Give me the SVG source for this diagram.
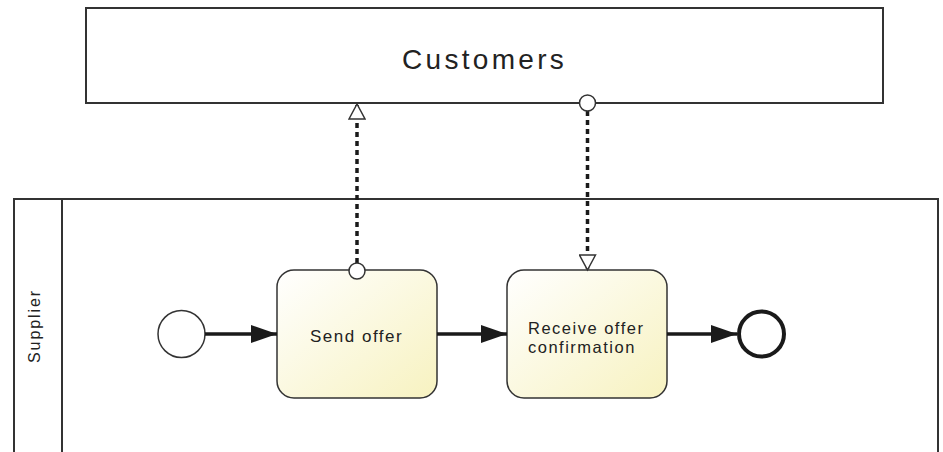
<svg xmlns="http://www.w3.org/2000/svg" width="943" height="452" viewBox="0 0 943 452">
<defs>
<linearGradient id="taskFill" x1="0" y1="0" x2="1" y2="1">
<stop offset="0" stop-color="#ffffff"/>
<stop offset="1" stop-color="#f7f2c0"/>
</linearGradient>
<marker id="seqArrow" markerWidth="26" markerHeight="20" refX="26" refY="10" orient="auto" markerUnits="userSpaceOnUse">
<path d="M0,1 L26,10 L0,19 Z" fill="#1a1a1a"/>
</marker>
<marker id="msgArrow" markerWidth="18" markerHeight="18" refX="16" refY="9" orient="auto" markerUnits="userSpaceOnUse">
<path d="M1,1 L16,9 L1,17 Z" fill="#ffffff" stroke="#333" stroke-width="1.5"/>
</marker>
</defs>
<style>
.frame{fill:#ffffff;stroke:#333;stroke-width:2}
.line{fill:none;stroke:#333;stroke-width:2}
.task{fill:url(#taskFill);stroke:#333;stroke-width:1.5}
.label{font-family:"Liberation Sans",Arial,sans-serif;fill:#222}
.seq{fill:none;stroke:#1a1a1a;stroke-width:3.5}
.msg{fill:none;stroke:#1a1a1a;stroke-width:3.5;stroke-dasharray:5 4}
.msgStart{fill:#ffffff;stroke:#333;stroke-width:1.5}
</style>
<rect width="943" height="452" fill="#ffffff"/>
<g id="customers">
<rect class="frame" x="86" y="8" width="797" height="95"/>
<text class="label" x="402" y="69" font-size="28" letter-spacing="3.3">Customers</text>
</g>
<g id="supplier">
<path class="line" d="M14,460 L14,199 L938,199 L938,460"/>
<line class="line" x1="62" y1="199" x2="62" y2="460"/>
<text class="label" transform="translate(40,326) rotate(-90)" x="0" y="0" font-size="16" letter-spacing="1.9" text-anchor="middle">Supplier</text>
</g>
<g id="start">
<circle cx="181.5" cy="334" r="23.5" fill="#ffffff" stroke="#333" stroke-width="1.5"/>
</g>
<g id="send-offer">
<rect class="task" x="277" y="270" width="160" height="128" rx="17"/>
<text class="label" x="310" y="342" font-size="17" letter-spacing="1.5">Send offer</text>
</g>
<g id="receive-offer">
<rect class="task" x="507" y="270" width="160" height="128" rx="17"/>
<text class="label" font-size="16.5" letter-spacing="1.5"><tspan x="528" y="334">Receive offer</tspan><tspan x="528" y="353">confirmation</tspan></text>
</g>
<g id="end">
<circle cx="761.5" cy="334" r="22.5" fill="#ffffff" stroke="#1a1a1a" stroke-width="4"/>
</g>
<g id="connectors">
<line class="seq" x1="205" y1="334" x2="277" y2="334" marker-end="url(#seqArrow)"/>
<line class="seq" x1="437" y1="334" x2="507" y2="334" marker-end="url(#seqArrow)"/>
<line class="seq" x1="667" y1="334" x2="737" y2="334" marker-end="url(#seqArrow)"/>
<line class="msg" x1="357" y1="263" x2="357" y2="104" marker-end="url(#msgArrow)"/>
<circle class="msgStart" cx="357" cy="271" r="8"/>
<line class="msg" x1="587.5" y1="111" x2="587.5" y2="270" marker-end="url(#msgArrow)"/>
<circle class="msgStart" cx="587.5" cy="103" r="8"/>
</g>
</svg>
